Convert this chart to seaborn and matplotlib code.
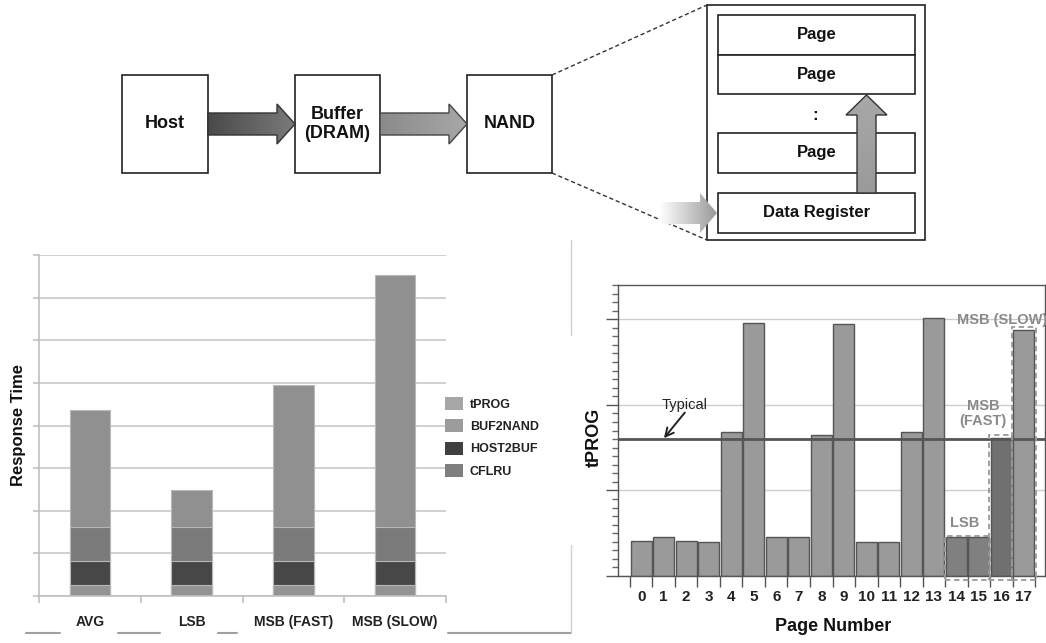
import numpy as np
import seaborn as sns
import matplotlib
matplotlib.use('Agg')
import matplotlib.pyplot as plt
from matplotlib.patches import Rectangle, Polygon, Patch
from matplotlib.colors import LinearSegmentedColormap

# left chart: stacked response time (grid units)
categories = ['AVG', 'LSB', 'MSB (FAST)', 'MSB (SLOW)']
buf2nand = [0.26, 0.26, 0.26, 0.26]
host2buf = [0.57, 0.57, 0.57, 0.57]
cflru = [0.80, 0.80, 0.80, 0.80]
tprog = [2.74, 0.86, 3.32, 5.91]

# right chart: tPROG per page
pages = [str(i) for i in range(18)]
tprog_page = [0.41, 0.45, 0.41, 0.40, 1.68, 2.96, 0.455, 0.45, 1.65,
              2.94, 0.40, 0.40, 1.685, 3.02, 0.46, 0.46, 1.61, 2.88]
page_kind = ['normal'] * 14 + ['lsb', 'lsb', 'fast', 'slow']
typical = 1.6

W, H = 1046, 643

sns.set_theme(style='white')
plt.rcParams['font.family'] = ['Liberation Sans', 'DejaVu Sans']
NARROW = ['Liberation Sans Narrow', 'Liberation Sans', 'DejaVu Sans']

fig = plt.figure(figsize=(W / 100, H / 100), dpi=100)


def grad_poly(ax, pts, c0, c1, vertical=False, edge=None):
    poly = Polygon(pts, closed=True, facecolor='none',
                   edgecolor=edge if edge else 'none', lw=1, zorder=4)
    ax.add_patch(poly)
    xs, ys = zip(*pts)
    g = np.linspace(0, 1, 256)
    g = g.reshape(-1, 1) if vertical else g.reshape(1, -1)
    cmap = LinearSegmentedColormap.from_list('g', [c0, c1])
    im = ax.imshow(g, extent=[min(xs), max(xs), max(ys), min(ys)], cmap=cmap,
                   aspect='auto', zorder=3, interpolation='bilinear')
    im.set_clip_path(poly)


def right_arrow(x0, x1, xh, yc, sh, hh):
    return [(x0, yc - sh), (xh, yc - sh), (xh, yc - hh), (x1, yc),
            (xh, yc + hh), (xh, yc + sh), (x0, yc + sh)]


# ---- top diagram (pixel coordinates) ----
ax0 = fig.add_axes([0, 0, 1, 1])
box_kw = dict(facecolor='white', edgecolor='#222222', lw=1.2, zorder=2)
for x, y, w, h in [(122, 75, 86, 98), (295, 75, 85, 98), (467, 75, 85, 98),
                   (707, 5, 218, 235), (718, 15, 197, 40), (718, 55, 197, 39),
                   (718, 133, 197, 40), (718, 193, 197, 40)]:
    ax0.add_patch(Rectangle((x, y), w, h, **box_kw))

ax0.text(165, 124, 'Host', ha='center', va='center', fontsize=13,
         fontweight='bold', family=NARROW, color='#111111')
ax0.text(337, 124, 'Buffer\n(DRAM)', ha='center', va='center', fontsize=13,
         fontweight='bold', family=NARROW, color='#111111', linespacing=1.15)
ax0.text(510, 124, 'NAND', ha='center', va='center', fontsize=13,
         fontweight='bold', family=NARROW, color='#111111')
for yc in [35, 75, 153]:
    ax0.text(816.5, yc, 'Page', ha='center', va='center', fontsize=12,
             fontweight='bold', color='#111111', zorder=5)
ax0.text(816.5, 213, 'Data Register', ha='center', va='center', fontsize=12,
         fontweight='bold', color='#111111', zorder=5)
ax0.text(815, 116, ':', ha='center', va='center', fontsize=12,
         fontweight='bold', color='#111111')

ax0.plot([552, 707], [75, 5], ls=(0, (3, 2)), color='#333333', lw=1)
ax0.plot([552, 707], [173, 240], ls=(0, (3, 2)), color='#333333', lw=1)

grad_poly(ax0, right_arrow(208, 295, 277, 124, 11, 20), '#4a4a4a', '#7a7a7a', edge='#333333')
grad_poly(ax0, right_arrow(380, 467, 449, 124, 11, 20), '#8a8a8a', '#a8a8a8', edge='#444444')
grad_poly(ax0, right_arrow(660, 717, 700, 213, 11, 20), '#ffffff', '#999999')
up = [(857, 193), (857, 115), (846, 115), (866.5, 95), (887, 115), (876, 115), (876, 193)]
grad_poly(ax0, up, '#a8a8a8', '#9a9a9a', vertical=True, edge='#333333')

# stray panel border lines
for xa, xb in [(26, 60), (118, 160), (218, 237), (448, 571)]:
    ax0.plot([xa, xb], [633, 633], color='#a0a0a0', lw=1.5)
ax0.plot([571, 571], [240, 335], color='#d0d0d0', lw=1)
ax0.plot([571, 571], [545, 633], color='#d0d0d0', lw=1)

ax0.set_xlim(0, W)
ax0.set_ylim(H, 0)
ax0.axis('off')

# ---- left chart: stacked bars ----
ax1 = fig.add_axes([39 / W, 1 - 596 / H, 407 / W, 341 / H])
stack = np.cumsum([buf2nand, host2buf, cflru, tprog], axis=0)
colors = {'tPROG': '#909090', 'BUF2NAND': '#939393',
          'HOST2BUF': '#474747', 'CFLRU': '#7a7a7a'}
layers = [('tPROG', stack[3]), ('CFLRU', stack[2]),
          ('HOST2BUF', stack[1]), ('BUF2NAND', stack[0])]
for name, vals in layers:
    sns.barplot(x=categories, y=vals, color=colors[name], saturation=1,
                width=0.4, edgecolor='#b8b8b8', linewidth=0.8, ax=ax1)
ax1.set_ylim(0, 8)
ax1.set_xlim(-0.5, 3.5)
ax1.set_yticks(range(9))
ax1.set_yticklabels([])
ax1.yaxis.grid(True, color='#c8c8c8', lw=1.2)
ax1.set_axisbelow(True)
ax1.tick_params(axis='y', left=True, length=4, width=1.2, color='#c0c0c0')
ax1.set_xticks(range(4))
ax1.set_xticklabels(categories, fontsize=10, fontweight='bold', color='#222222')
ax1.set_xticks([-0.5, 0.5, 1.5, 2.5, 3.5], minor=True)
ax1.tick_params(axis='x', which='major', length=0, pad=14)
ax1.tick_params(axis='x', which='minor', bottom=True, length=5, width=1.2,
                color='#c0c0c0')
for s in ['top', 'right']:
    ax1.spines[s].set_visible(False)
for s in ['left', 'bottom']:
    ax1.spines[s].set_color('#c0c0c0')
    ax1.spines[s].set_linewidth(1.2)
ax1.set_xlabel('')
ax1.set_ylabel('Response Time', fontsize=12, fontweight='bold', color='#111111')
ax1.yaxis.set_label_coords(-0.032, 0.5)

handles = [Patch(facecolor=c, edgecolor='none', label=n) for n, c in
           [('tPROG', '#a6a6a6'), ('BUF2NAND', '#9c9c9c'),
            ('HOST2BUF', '#404040'), ('CFLRU', '#7f7f7f')]]
leg = ax1.legend(handles=handles, loc='upper left', frameon=False,
                 bbox_to_anchor=(445 / W, 1 - 397 / H),
                 bbox_transform=fig.transFigure, prop=dict(size=9, weight='bold'),
                 handlelength=1.45, handleheight=1.2, labelspacing=0.7,
                 handletextpad=0.55, borderpad=0, borderaxespad=0)
for t in leg.get_texts():
    t.set_color('#222222')

# ---- right chart: tPROG per page ----
kind_color = {'normal': '#9a9a9a', 'lsb': '#808080', 'fast': '#707070', 'slow': '#9a9a9a'}
ax2 = fig.add_axes([618 / W, 1 - 576 / H, 427 / W, 291 / H])
sns.barplot(x=pages, y=tprog_page, hue=pages,
            palette=[kind_color[k] for k in page_kind], legend=False,
            saturation=1, width=0.92, edgecolor='#555555', linewidth=1,
            ax=ax2, zorder=2)
ax2.set_xlim(-1.03, 17.94)
ax2.set_ylim(0, 3.4)
ax2.set_yticks([0, 1, 2, 3])
ax2.set_yticklabels([])
ax2.set_yticks(np.arange(0, 3.45, 0.1), minor=True)
ax2.yaxis.grid(True, which='major', color='#cccccc', lw=1)
ax2.set_axisbelow(True)
ax2.tick_params(axis='y', which='major', left=True, length=9, width=1, color='#555555')
ax2.tick_params(axis='y', which='minor', left=True, length=4, width=1, color='#666666')
ax2.set_xticks(range(18))
ax2.set_xticklabels(pages, fontsize=11, fontweight='bold', color='#222222')
ax2.set_xticks(np.arange(18 + 1) - 0.5, minor=True)
ax2.tick_params(axis='x', which='major', length=0, pad=10)
ax2.tick_params(axis='x', which='minor', bottom=True, length=8, width=1, color='#555555')
for s in ax2.spines.values():
    s.set_color('#555555')
    s.set_linewidth(1)
ax2.axhline(typical, color='#555555', lw=2, zorder=3)

ax2.text(1.94, 2.0, 'Typical', ha='center', va='center', fontsize=10.5, color='#222222')
ax2.annotate('', xy=(1.01, typical + 0.01), xytext=(1.94, 1.91),
             arrowprops=dict(arrowstyle='->,head_length=0.5,head_width=0.25',
                             color='#222222', lw=1.4, shrinkA=0, shrinkB=0))

dash = dict(fill=False, ls=(0, (3, 2)), edgecolor='#999999', lw=1.3,
            clip_on=False, zorder=4)
lsb_top = max(tprog_page[14:16]) + 0.01
ax2.add_patch(Rectangle((13.5, -0.05), 2.0, lsb_top + 0.05, **dash))
ax2.add_patch(Rectangle((15.46, -0.05), 1.02, tprog_page[16] + 0.085, **dash))
ax2.add_patch(Rectangle((16.48, -0.05), 1.06, tprog_page[17] + 0.08, **dash))
lab = dict(ha='center', va='center', fontsize=10.5, fontweight='bold', color='#8a8a8a')
ax2.text(14.39, 0.62, 'LSB', **lab)
ax2.text(15.19, 1.9, 'MSB\n(FAST)', linespacing=1.1, **lab)
ax2.text(16.03, 2.99, 'MSB (SLOW)', clip_on=False, **lab)

ax2.set_xlabel('Page Number', fontsize=13, fontweight='bold', color='#111111')
ax2.xaxis.set_label_coords(0.504, -0.145)
ax2.set_ylabel('tPROG', fontsize=13, fontweight='bold', color='#111111')
ax2.yaxis.set_label_coords(-0.035, 0.478)

fig.savefig('out.png', dpi=100)
